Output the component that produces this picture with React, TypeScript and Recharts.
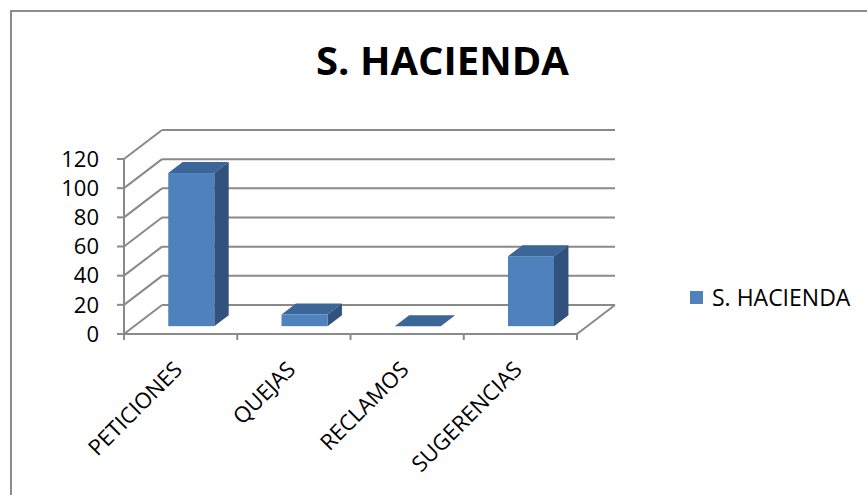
import React from 'react';
import { BarChart, Bar, XAxis, YAxis, CartesianGrid, Legend } from 'recharts';

const categories = ['PETICIONES', 'QUEJAS', 'RECLAMOS', 'SUGERENCIAS'];
const seriesName = 'S. HACIENDA';
const values = [105, 8, 0, 48];
const yTicks = [0, 20, 40, 60, 80, 100, 120];
const chartTitle = 'S. HACIENDA';

const data = categories.map((c, i) => ({ name: c, value: values[i] }));

const W = 867;
const H = 495;
const DX = 38;
const DY = -29;
const FRONT_GAP = 0.27;
const BAR_DEPTH = 0.38;
const GRID = '#8a8a8a';
const C_FRONT = '#4F81BD';
const C_TOP = '#3C6697';
const C_SIDE = '#30527C';
const FONT = '"Open Sans", sans-serif';

function Bar3D(props: any) {
  const { x, y, width, height } = props;
  if (x == null || y == null) return null;
  const h = Math.max(height || 0, 0);
  const ox = x + DX * FRONT_GAP;
  const oy = y + DY * FRONT_GAP;
  const dx = DX * BAR_DEPTH;
  const dy = DY * BAR_DEPTH;
  return (
    <g>
      <polygon
        points={`${ox},${oy} ${ox + dx},${oy + dy} ${ox + width + dx},${oy + dy} ${ox + width},${oy}`}
        fill={C_TOP}
      />
      <polygon
        points={`${ox + width},${oy} ${ox + width + dx},${oy + dy} ${ox + width + dx},${oy + dy + h} ${ox + width},${oy + h}`}
        fill={C_SIDE}
      />
      {h > 0 && <rect x={ox} y={oy} width={width} height={h} fill={C_FRONT} />}
    </g>
  );
}

function GridLine(props: any) {
  const { x1, y1, x2, index } = props;
  return (
    <g key={`g-${index}`}>
      <line x1={x1} y1={y1} x2={x1 + DX} y2={y1 + DY} stroke={GRID} strokeWidth={2} />
      <line x1={x1 + DX} y1={y1 + DY} x2={x2 + DX} y2={y1 + DY} stroke={GRID} strokeWidth={2} />
    </g>
  );
}

function CatTick(props: any) {
  const { x, y, payload } = props;
  const half = payload && payload.offset ? payload.offset : 56.6;
  const last = payload.index === categories.length - 1;
  const lx = x + 3;
  const ly = y + 37;
  return (
    <g>
      <line x1={x - half} y1={y} x2={x - half} y2={y + 6} stroke={GRID} strokeWidth={2} />
      {last && <line x1={x + half} y1={y} x2={x + half} y2={y + 6} stroke={GRID} strokeWidth={2} />}
      {last && <line x1={x + half} y1={y} x2={x + half + DX} y2={y + DY} stroke={GRID} strokeWidth={2} />}
      <text
        x={lx}
        y={ly}
        textAnchor="end"
        transform={`rotate(-45 ${lx} ${ly})`}
        fontFamily={FONT}
        fontSize={22}
        fill="#000"
      >
        {payload.value}
      </text>
    </g>
  );
}

function LegendContent(props: any) {
  const items = props.payload || [];
  return (
    <div>
      {items.map((it: any) => (
        <div key={it.value} style={{ display: 'flex', alignItems: 'center', fontFamily: FONT, fontSize: 23, color: '#000', lineHeight: '26px' }}>
          <span style={{ display: 'inline-block', width: 13, height: 13, background: C_FRONT, marginRight: 9 }} />
          <span>{it.value}</span>
        </div>
      ))}
    </div>
  );
}

export default function App() {
  return (
    <div style={{ position: 'absolute', left: 0, top: 0, width: W, height: H, background: '#fff', overflow: 'hidden' }}>
      <div
        style={{
          position: 'absolute',
          left: 10,
          top: 10,
          width: W + 20,
          height: H + 20,
          border: '2px solid #8c8c8c',
          boxSizing: 'border-box',
        }}
      />
      <div
        style={{
          position: 'absolute',
          left: 0,
          top: 34,
          width: 885,
          textAlign: 'center',
          fontFamily: FONT,
          fontWeight: 700,
          fontSize: 40,
          lineHeight: '52px',
          color: '#000',
        }}
      >
        {chartTitle}
      </div>
      <div style={{ position: 'absolute', left: 0, top: 0 }}>
        <BarChart
          width={W}
          height={H}
          data={data}
          margin={{ top: 159, right: 290, bottom: 101, left: 64 }}
        >
          <CartesianGrid vertical={false} horizontal={GridLine as any} />
          <XAxis
            dataKey="name"
            tick={<CatTick />}
            tickLine={false}
            tickSize={0}
            tickMargin={0}
            axisLine={{ stroke: GRID, strokeWidth: 2 }}
            height={60}
            interval={0}
          />
          <YAxis
            domain={[0, 120]}
            ticks={yTicks}
            width={60}
            tickSize={7}
            tickMargin={18}
            tickLine={{ stroke: GRID, strokeWidth: 2 }}
            axisLine={{ stroke: GRID, strokeWidth: 2 }}
            tick={{ fontFamily: FONT, fontSize: 22, fill: '#000' }}
            interval={0}
          />
          <Legend
            layout="horizontal"
            align="center"
            verticalAlign="middle"
            content={<LegendContent />}
            wrapperStyle={{ left: 690, top: 284, width: 177 }}
          />
          <Bar dataKey="value" name={seriesName} fill={C_FRONT} barSize={46} shape={<Bar3D />} isAnimationActive={false} />
        </BarChart>
      </div>
    </div>
  );
}
